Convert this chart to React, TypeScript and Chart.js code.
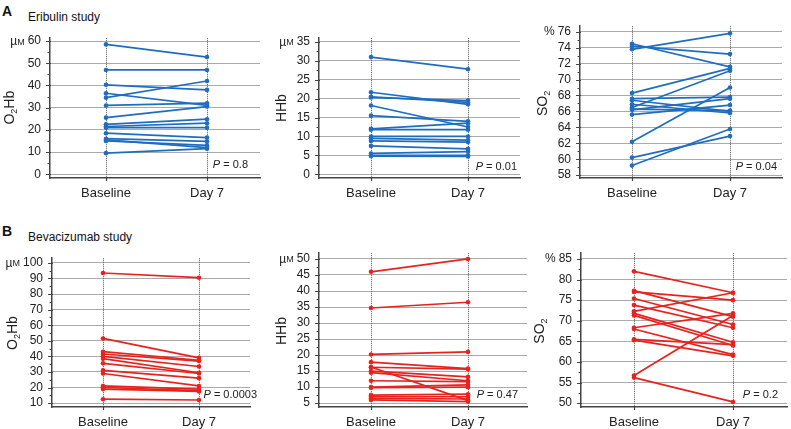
import React, { useEffect, useRef } from 'react';
import { Chart, registerables } from 'chart.js';

Chart.register(...registerables);

const FONT = "'Liberation Sans', Arial, Helvetica, sans-serif";

// ---------- DATA ----------
const timepoints = ['Baseline', 'Day 7'];

// Eribulin study
const eribO2HbBaseline = [58.5, 47, 40.3, 36.5, 34.5, 31, 25.5, 22.5, 21.5, 21, 18.5, 16, 15.5, 15, 9.5];
const eribO2HbDay7 = [52.8, 47, 38, 31, 42, 32, 30.5, 24.8, 23, 21, 16.5, 14.8, 12, 13, 11.5];
const eribO2HbTicks = [0, 10, 20, 30, 40, 50, 60];

const eribHHbBaseline = [31, 21.7, 20.5, 20.3, 18.2, 15.5, 12, 11.8, 10, 9.5, 8.8, 7.5, 5.5, 5, 4.8];
const eribHHbDay7 = [27.8, 18.5, 19, 19.5, 12.5, 14, 13.5, 11.8, 10, 9, 8.5, 6.7, 6, 5, 4.7];
const eribHHbTicks = [0, 5, 10, 15, 20, 25, 30, 35];

const eribSO2Baseline = [74.5, 74.2, 73.8, 68.3, 67.6, 67.4, 66.9, 66.5, 66.3, 66.2, 65.6, 62.2, 60.2, 59.2];
const eribSO2Day7 = [71.6, 73.2, 75.8, 71.4, 67.8, 66.0, 65.8, 71.1, 66.1, 67.6, 66.8, 69.0, 62.9, 63.8];
const eribSO2Ticks = [58, 60, 62, 64, 66, 68, 70, 72, 74, 76];

// Bevacizumab study
const bevO2HbBaseline = [93.5, 51.5, 43, 41.5, 40, 38.5, 35.5, 31, 29, 21, 20, 19, 12.5];
const bevO2HbDay7 = [90.5, 39, 37.5, 37, 33.5, 29.5, 29, 26, 21, 19, 18, 17.5, 12];
const bevO2HbTicks = [10, 20, 30, 40, 50, 60, 70, 80, 90, 100];

const bevHHbBaseline = [46, 34.7, 20.2, 17.8, 16.3, 16.2, 15, 14.5, 12, 10, 9.8, 7.5, 7, 6.5, 6];
const bevHHbDay7 = [50, 36.5, 21, 15.8, 5.8, 15.6, 13.2, 12, 11.7, 10.7, 10, 7.8, 7, 6.3, 5.5];
const bevHHbTicks = [5, 10, 15, 20, 25, 30, 35, 40, 45, 50];

const bevSO2Baseline = [82, 77.3, 77, 75.4, 73.8, 72.3, 71.8, 71.3, 68.3, 68, 65.5, 65.3, 56.7, 56.2];
const bevSO2Day7 = [76.8, 71, 75, 69.1, 68.3, 76.8, 64.8, 64, 71.8, 61.8, 64.2, 61.5, 71.3, 50.3];
const bevSO2Ticks = [50, 55, 60, 65, 70, 75, 80, 85];

const pValues = ['0.8', '0.01', '0.04', '0.0003', '0.47', '0.2'];

const BLUE = '#1f6dc1';
const RED = '#e8221e';

// ---------- LAYOUT ----------
type TitleParts = { pre: string; sub: string; post: string };
type PanelCfg = {
  base: number[]; day7: number[]; ticks: number[]; color: string;
  title: TitleParts; unit: string; p: string;
  axisX: number; top: number; bottom: number; right: number; xBase: number; xDay: number;
  yMin: number; yMax: number; titleDx: number; pDx: number; pDy: number;
};

const O2HB: TitleParts = { pre: 'O', sub: '2', post: 'Hb' };
const HHB: TitleParts = { pre: 'HHb', sub: '', post: '' };
const SO2: TitleParts = { pre: 'SO', sub: '2', post: '' };

const panels: PanelCfg[] = [
  { base: eribO2HbBaseline, day7: eribO2HbDay7, ticks: eribO2HbTicks, color: BLUE, title: O2HB, unit: 'µM', p: pValues[0],
    axisX: 50, top: 32, bottom: 178, right: 260, xBase: 106, xDay: 207, yMin: -1.7, yMax: 61.3, titleDx: -40, pDx: -12, pDy: -13 },
  { base: eribHHbBaseline, day7: eribHHbDay7, ticks: eribHHbTicks, color: BLUE, title: HHB, unit: 'µM', p: pValues[1],
    axisX: 319, top: 32, bottom: 178, right: 520, xBase: 371, xDay: 468, yMin: -1.0, yMax: 36.0, titleDx: -37, pDx: -3, pDy: -11 },
  { base: eribSO2Baseline, day7: eribSO2Day7, ticks: eribSO2Ticks, color: BLUE, title: SO2, unit: '%', p: pValues[2],
    axisX: 580, top: 20, bottom: 178, right: 782, xBase: 632, xDay: 730, yMin: 57.64, yMax: 76.7, titleDx: -37, pDx: -5, pDy: -11 },
  { base: bevO2HbBaseline, day7: bevO2HbDay7, ticks: bevO2HbTicks, color: RED, title: O2HB, unit: 'µM', p: pValues[3],
    axisX: 52, top: 252, bottom: 407, right: 250, xBase: 103, xDay: 199, yMin: 7.5, yMax: 103, titleDx: -39, pDx: 7, pDy: -12 },
  { base: bevHHbBaseline, day7: bevHHbDay7, ticks: bevHHbTicks, color: RED, title: HHB, unit: 'µM', p: pValues[4],
    axisX: 319, top: 247, bottom: 407, right: 527, xBase: 371, xDay: 468, yMin: 3.8, yMax: 51.8, titleDx: -37, pDx: -9, pDy: -12 },
  { base: bevSO2Baseline, day7: bevSO2Day7, ticks: bevSO2Ticks, color: RED, title: SO2, unit: '%', p: pValues[5],
    axisX: 581, top: 247, bottom: 407, right: 787, xBase: 634, xDay: 733, yMin: 49.07, yMax: 86.4, titleDx: -41, pDx: -9, pDy: -12 },
];

const Y_W = 60;
const PAD_TOP = 10;
const X_H = 26;
const PAD_RIGHT = 8;

const decorPlugin = {
  id: 'decor',
  afterDraw(chart: any, _args: any, opts: any) {
    const { ctx, chartArea } = chart;
    const { left, right, bottom } = chartArea;
    const ys = chart.scales.y;
    const xs = chart.scales.x;
    const tv: number[] = opts.ticks;
    ctx.save();
    // tick marks
    ctx.strokeStyle = '#444';
    ctx.lineWidth = 1.2;
    ctx.beginPath();
    tv.forEach((v, i) => {
      const y = Math.round(ys.getPixelForValue(v)) + 0.5;
      ctx.moveTo(left - 4, y);
      ctx.lineTo(left + 1, y);
      if (i < tv.length - 1) {
        const ym = Math.round(ys.getPixelForValue((v + tv[i + 1]) / 2)) + 0.5;
        ctx.moveTo(left - 2.5, ym);
        ctx.lineTo(left, ym);
      }
    });
    [0, 1].forEach((v) => {
      const x = Math.round(xs.getPixelForValue(v)) + 0.5;
      ctx.moveTo(x, bottom);
      ctx.lineTo(x, bottom + 3);
    });
    ctx.stroke();

    ctx.fillStyle = '#222';
    ctx.textBaseline = 'middle';
    // unit label
    const topV = tv[tv.length - 1];
    const topY = ys.getPixelForValue(topV);
    ctx.font = `12px ${FONT}`;
    const lw = ctx.measureText(String(topV)).width;
    const unitRight = left - 9 - lw - 3;
    if (opts.unit === '%') {
      ctx.textAlign = 'right';
      ctx.font = `12px ${FONT}`;
      ctx.fillText('%', unitRight, topY);
    } else {
      ctx.font = `9px ${FONT}`;
      const mW = ctx.measureText('M').width;
      ctx.textAlign = 'left';
      ctx.fillText('M', unitRight - mW, topY + 1);
      ctx.font = `12px ${FONT}`;
      const uW = ctx.measureText('µ').width;
      ctx.fillText('µ', unitRight - mW - uW, topY + 1);
    }

    // rotated title
    const t: TitleParts = opts.title;
    const cy = (ys.getPixelForValue(tv[0]) + topY) / 2;
    const cx = left + opts.titleDx;
    ctx.save();
    ctx.translate(cx, cy);
    ctx.rotate(-Math.PI / 2);
    ctx.textAlign = 'left';
    ctx.font = `14px ${FONT}`;
    const w1 = ctx.measureText(t.pre).width;
    const w3 = ctx.measureText(t.post).width;
    ctx.font = `9px ${FONT}`;
    const w2 = t.sub ? ctx.measureText(t.sub).width : 0;
    let x0 = -(w1 + w2 + w3) / 2;
    ctx.font = `14px ${FONT}`;
    ctx.fillText(t.pre, x0, 0);
    x0 += w1;
    if (t.sub) {
      ctx.font = `9px ${FONT}`;
      ctx.fillText(t.sub, x0, 5);
      x0 += w2;
    }
    if (t.post) {
      ctx.font = `14px ${FONT}`;
      ctx.fillText(t.post, x0, 0);
    }
    ctx.restore();

    // P value
    const py = bottom + opts.pDy;
    const pr = right + opts.pDx;
    ctx.font = `11px ${FONT}`;
    const rest = ` = ${opts.p}`;
    const rw = ctx.measureText(rest).width;
    ctx.textAlign = 'left';
    ctx.fillText(rest, pr - rw, py);
    ctx.font = `italic 11px ${FONT}`;
    const pw = ctx.measureText('P').width;
    ctx.fillText('P', pr - rw - pw, py);
    ctx.restore();
  },
};

function Panel({ cfg }: { cfg: PanelCfg }) {
  const ref = useRef<HTMLCanvasElement>(null);
  const cLeft = cfg.axisX - Y_W;
  const cTop = cfg.top - PAD_TOP;
  const cW = cfg.right - cfg.axisX + Y_W + PAD_RIGHT;
  const cH = PAD_TOP + (cfg.bottom - cfg.top) + X_H;

  useEffect(() => {
    if (!ref.current) return;
    const span = cfg.xDay - cfg.xBase;
    const xMin = -(cfg.xBase - cfg.axisX) / span;
    const xMax = 1 + (cfg.right - cfg.xDay) / span;
    const datasets = cfg.base.map((b, i) => ({
      data: [{ x: 0, y: b }, { x: 1, y: cfg.day7[i] }],
      borderColor: cfg.color,
      backgroundColor: cfg.color,
      borderWidth: 1.7,
      pointRadius: 2.3,
      pointBorderWidth: 0,
      pointHoverRadius: 2.3,
      tension: 0,
    }));
    const chart = new Chart(ref.current, {
      type: 'line',
      data: { datasets },
      plugins: [decorPlugin as any],
      options: {
        responsive: false,
        maintainAspectRatio: false,
        animation: false,
        events: [],
        layout: { padding: { top: PAD_TOP, right: PAD_RIGHT, left: 0, bottom: 0 } },
        plugins: {
          legend: { display: false },
          tooltip: { enabled: false },
          decor: { ticks: cfg.ticks, unit: cfg.unit, title: cfg.title, p: cfg.p, titleDx: cfg.titleDx, pDx: cfg.pDx, pDy: cfg.pDy },
        } as any,
        scales: {
          x: {
            type: 'linear',
            min: xMin,
            max: xMax,
            afterFit: (s: any) => { s.height = X_H; },
            afterBuildTicks: (s: any) => { s.ticks = [{ value: 0 }, { value: 1 }]; },
            ticks: {
              callback: (v: any) => timepoints[v] ?? '',
              padding: 8,
              autoSkip: false,
              maxRotation: 0,
              color: '#222',
              font: { size: 13, family: FONT },
            },
            grid: { color: '#555', lineWidth: 1, drawTicks: false },
            border: { display: true, color: '#444', width: 1.5, dash: [1, 1] },
          },
          y: {
            type: 'linear',
            min: cfg.yMin,
            max: cfg.yMax,
            afterFit: (s: any) => { s.width = Y_W; },
            afterBuildTicks: (s: any) => { s.ticks = cfg.ticks.map((v) => ({ value: v })); },
            ticks: {
              padding: 9,
              autoSkip: false,
              color: '#222',
              font: { size: 12, family: FONT },
              callback: (v: any) => String(v),
            },
            grid: { color: '#555', lineWidth: 1, drawTicks: false },
            border: { display: true, color: '#444', width: 1.5, dash: [1, 1] },
          },
        },
      } as any,
    });
    return () => chart.destroy();
  }, []);

  return (
    <canvas
      ref={ref}
      width={cW}
      height={cH}
      style={{ position: 'absolute', left: cLeft, top: cTop, width: cW, height: cH }}
    />
  );
}

const headStyle: React.CSSProperties = { position: 'absolute', lineHeight: 1, color: '#111', whiteSpace: 'nowrap' };

export default function App() {
  return (
    <div style={{ position: 'fixed', left: 0, top: 0, width: 791, height: 429, overflow: 'hidden', background: '#fff', fontFamily: FONT }}>
      <div style={{ ...headStyle, left: 2, top: 3, font: `bold 14px ${FONT}` }}>A</div>
      <div style={{ ...headStyle, left: 28, top: 10, font: `12px ${FONT}` }}>Eribulin study</div>
      <div style={{ ...headStyle, left: 2, top: 223, font: `bold 14px ${FONT}` }}>B</div>
      <div style={{ ...headStyle, left: 28, top: 230, font: `12px ${FONT}` }}>Bevacizumab study</div>
      {panels.map((p, i) => (
        <Panel key={i} cfg={p} />
      ))}
    </div>
  );
}
